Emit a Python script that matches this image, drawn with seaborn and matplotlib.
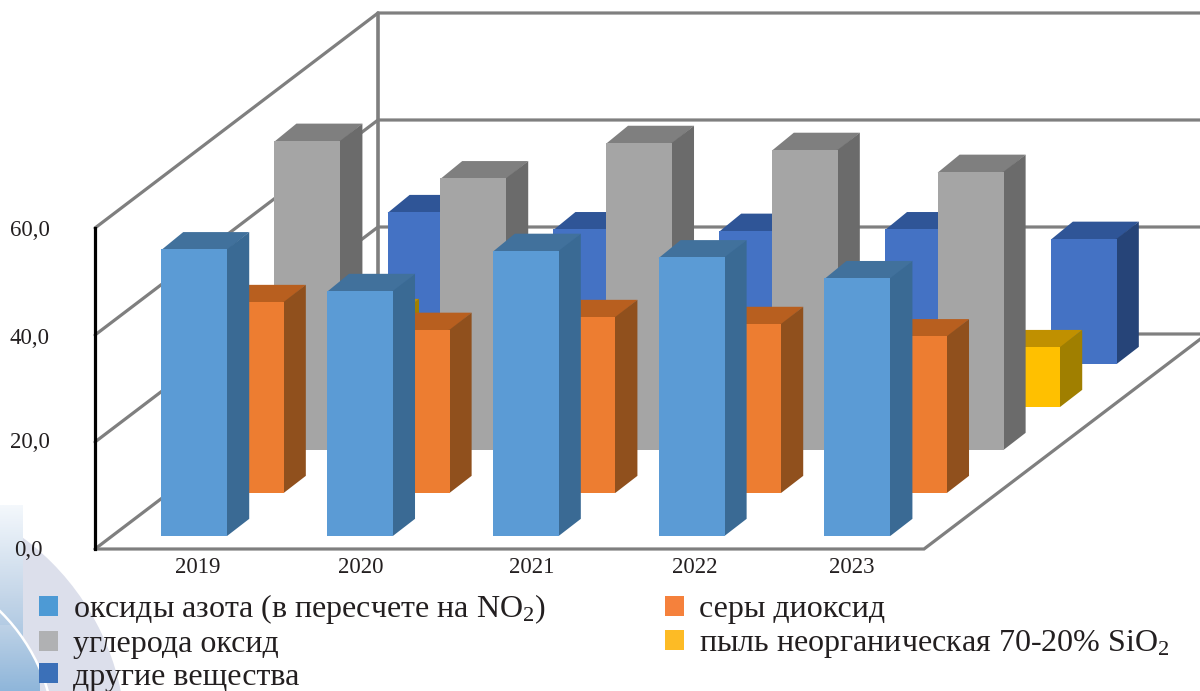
import matplotlib
matplotlib.use("Agg")
import matplotlib.pyplot as plt
import matplotlib.transforms as mtrans
from matplotlib.patches import Circle, Patch, Polygon
import numpy as np
import seaborn as sns

# --- data -------------------------------------------------------------
years = ["2019", "2020", "2021", "2022", "2023"]
nitrogen_oxides = [53.6, 45.8, 53.3, 52.1, 48.2]
sulfur_dioxide = [35.7, 30.5, 32.9, 31.6, 29.3]
carbon_oxide = [57.8, 50.8, 57.4, 56.1, 52.0]
inorganic_dust = [17.0, 14.0, 12.0, 12.0, 11.2]
other_substances = [28.4, 25.2, 24.9, 25.2, 23.4]
value_ticks = [0, 20, 40, 60]
value_tick_labels = ["0,0", "20,0", "40,0", "60,0"]
legend_labels = [
    "оксиды азота (в пересчете на NO$_2$)",
    "углерода оксид",
    "другие вещества",
    "серы диоксид",
    "пыль неорганическая 70-20% SiO$_2$",
]

# --- style ------------------------------------------------------------
sns.set_theme(style="white")
plt.rcParams["font.family"] = ["Liberation Serif", "DejaVu Serif"]
plt.rcParams["mathtext.fontset"] = "custom"
plt.rcParams["mathtext.rm"] = "Liberation Serif"
plt.rcParams["mathtext.it"] = "Liberation Serif"
plt.rcParams["mathtext.default"] = "rm"
TEXT = "#231f20"
WALL = "#7f7f7f"

W, H = 1200, 691
fig = plt.figure(figsize=(W / 100, H / 100), dpi=100, facecolor="white")

# oblique box geometry, in pixels
X0, Y0 = 95, 549          # front-left floor corner
BOX_W, BOX_H = 829, 321   # category span and 0..60 span
STEP_X, STEP_Y = 56.6, 43 # shift per series along the depth axis
DEPTH_X, DEPTH_Y = 22, 17 # depth of one bar
BAR_W = 66
N_CAT, N_SER, VMAX = len(years), 5, 60


def project(cat, depth, value):
    """Map category span, depth slot and value to page pixels."""
    return (X0 + cat / N_CAT * BOX_W + depth * STEP_X,
            Y0 - value / VMAX * BOX_H - depth * STEP_Y)


# page-level axes in pixels for the backdrop and the box
room = fig.add_axes([0, 0, 1, 1], zorder=0)
room.set_xlim(0, W)
room.set_ylim(H, 0)
room.axis("off")

# corner decoration
outer = Circle((-128, 742), 254, fc="#dcdfeb", ec="none", zorder=1)
room.add_patch(outer)
ramp = np.linspace(0, 1, 128)[:, None]
cmap = sns.blend_palette(["#f4f8fc", "#c3d5e8", "#8fb6da"], as_cmap=True)
room.imshow(ramp, extent=(0, 23, H, 505), cmap=cmap, aspect="auto", zorder=2)
inner_grad = room.imshow(ramp[70:], extent=(0, 40, H, 625), cmap=cmap,
                         vmin=0, vmax=1, aspect="auto", zorder=3)
inner = Circle((-128, 742), 183, fc="none", ec="none", transform=room.transData)
room.add_patch(inner)
inner_grad.set_clip_path(inner)
room.add_patch(Circle((-128, 742), 183, fc="none", ec="white", lw=1.8, zorder=4))
room.set_xlim(0, W)
room.set_ylim(H, 0)

# back wall, side wall and floor
for v in value_ticks:
    xa, ya = project(0, 0, v)
    xb, yb = project(0, N_SER, v)
    xc, yc = project(N_CAT, N_SER, v)
    room.plot([xa, xb, xc], [ya, yb, yc], color=WALL, lw=2.3, zorder=5,
              solid_joinstyle="miter")
xb, yb = project(0, N_SER, 0)
xt, yt = project(0, N_SER, VMAX)
room.plot([xb, xt], [yb, yt], color=WALL, lw=2.6, zorder=5)
fl = [project(0, 0, 0), project(N_CAT, 0, 0), project(N_CAT, N_SER, 0)]
room.plot(*zip(*fl), color=WALL, lw=2.3, zorder=5, solid_joinstyle="miter")

# value axis
yaxis_ax = fig.add_axes([X0 / W, (H - Y0) / H, BOX_W / W, BOX_H / H], zorder=1)
yaxis_ax.patch.set_alpha(0)
yaxis_ax.set_ylim(0, VMAX)
yaxis_ax.set_yticks(value_ticks, value_tick_labels, fontsize=16.5, color=TEXT)
yaxis_ax.set_xticks([])
yaxis_ax.tick_params(axis="y", length=0, pad=32.7)
sns.despine(ax=yaxis_ax, top=True, right=True, bottom=True, left=False)
yaxis_ax.spines["left"].set_color("black")
yaxis_ax.spines["left"].set_linewidth(2.3)
label_shift = {"0,0": (-7, 1), "20,0": (0, 2), "40,0": (0, -1), "60,0": (0, 0)}
for lab in yaxis_ax.get_yticklabels():
    dx, dy = label_shift[lab.get_text()]
    lab.set_transform(lab.get_transform() + mtrans.Affine2D().translate(dx, dy))

# series from the back of the box to the front: (values, front, top, side)
series = [
    (other_substances, "#4472c4", "#2f5597", "#264478"),
    (inorganic_dust, "#ffc000", "#c09000", "#a07f00"),
    (carbon_oxide, "#a5a5a5", "#7f7f7f", "#6b6b6b"),
    (sulfur_dioxide, "#ed7d31", "#b85f1f", "#90501d"),
    (nitrogen_oxides, "#5b9bd5", "#41719c", "#3a6a94"),
]
inset = 0.306  # centres a bar inside its depth slot
year_nudge = [4, 1, 6, 3, -6]

for order, (values, front, top, side) in enumerate(series):
    depth = N_SER - 1 - order + inset
    px, py = project(0, depth, 0)
    ax = fig.add_axes([(px - 1) / W, (H - py) / H, BOX_W / W, BOX_H / H], zorder=2 + order)
    ax.patch.set_alpha(0)
    sns.barplot(x=years, y=values, ax=ax, color=front, saturation=1,
                width=BAR_W / (BOX_W / N_CAT), linewidth=0, zorder=3)
    ax.set_xlim(-0.5, N_CAT - 0.5)
    ax.set_ylim(0, VMAX)
    ax.set_ylabel("")
    ax.set_yticks([])
    sns.despine(ax=ax, left=True, bottom=True)
    for bar in list(ax.patches):
        x0, w, h = bar.get_x(), bar.get_width(), bar.get_height()
        (xl, yb_), (xr, yt_) = ax.transData.transform([(x0, 0), (x0 + w, h)])
        # the faces run one pixel under the front so no seam shows along the edges
        top_face = [(xl, yt_ - 1), (xr, yt_ - 1), (xr + DEPTH_X, yt_ + DEPTH_Y),
                    (xl + DEPTH_X, yt_ + DEPTH_Y)]
        side_face = [(xr - 1, yb_), (xr - 1, yt_), (xr, yt_),
                     (xr + DEPTH_X, yt_ + DEPTH_Y), (xr + DEPTH_X, yb_ + DEPTH_Y),
                     (xr, yb_)]
        for pts, col in ((top_face, top), (side_face, side)):
            ax.add_patch(Polygon(pts, closed=True, fc=col, ec="none", zorder=2,
                                 transform=mtrans.IdentityTransform(), clip_on=False))
    if order == N_SER - 1:
        ax.tick_params(axis="x", length=0, pad=15.5, labelsize=16.5, labelcolor=TEXT)
        for lab, nudge in zip(ax.get_xticklabels(), year_nudge):
            lab.set_transform(lab.get_transform() + mtrans.Affine2D().translate(nudge, 0))
    else:
        ax.set_xticks([])

# legend
handles = [Patch(fc=c, ec="none") for c in
           ("#4d9ad5", "#b0b1b3", "#3b70b8", "#f5813c", "#fdbb25")]
fig.legend(handles, legend_labels, ncol=2, loc="upper left",
           bbox_to_anchor=(39 / W, 1 - 592.5 / H), bbox_transform=fig.transFigure,
           frameon=False, fontsize=23, labelcolor=TEXT, handlelength=0.595,
           handleheight=0.595, handletextpad=0.47, columnspacing=3.73,
           labelspacing=0.11, borderpad=0, borderaxespad=0)

fig.savefig("out.png", dpi=100)
